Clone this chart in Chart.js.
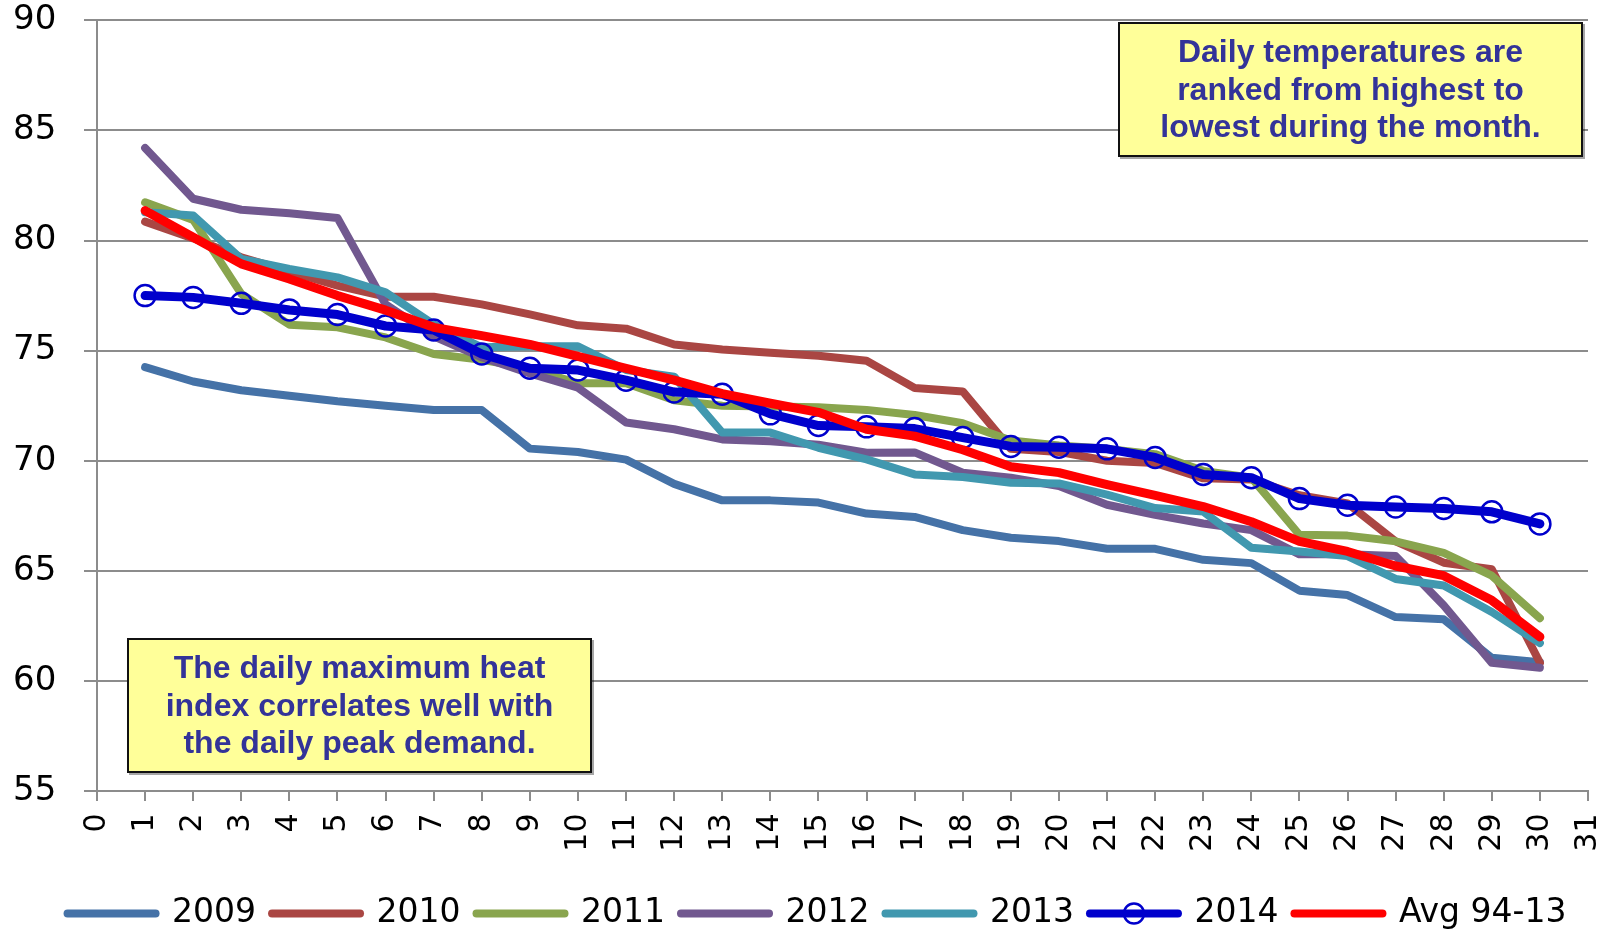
<!DOCTYPE html>
<html>
<head>
<meta charset="utf-8">
<script src="https://cdn.jsdelivr.net/npm/chart.js@4"></script>
<style>
    html, body { margin: 0; padding: 0; background: #fff; overflow: hidden; }
    .wrap { position: relative; width: 1621px; height: 932px; }
    .note {
        position: absolute;
        box-sizing: border-box;
        width: 465px;
        height: 135px;
        background: #FFFF99;
        border: 2px solid #111;
        box-shadow: 2px 2px 0 rgba(0, 0, 0, 0.35);
        display: flex;
        align-items: center;
        justify-content: center;
        text-align: center;
        font: bold 32px 'Liberation Sans', Arial, sans-serif;
        line-height: 37.5px;
        color: #333399;
    }
</style>
</head>
<body>
<div class="wrap">
    <canvas id="myLineChart"></canvas>
    <div class="note" style="left:1118px; top:22px;">Daily temperatures are<br>ranked from highest to<br>lowest during the month.</div>
    <div class="note" style="left:127px; top:638px;">The daily maximum heat<br>index correlates well with<br>the daily peak demand.</div>
</div>
<script>
// ranked day of month (1 = hottest)
const days = [1, 2, 3, 4, 5, 6, 7, 8, 9, 10, 11, 12, 13, 14, 15, 16, 17, 18, 19, 20, 21, 22, 23, 24, 25, 26, 27, 28, 29, 30];

const y2009 = [74.25, 73.6, 73.2, 72.95, 72.7, 72.5, 72.3, 72.3, 70.55, 70.4, 70.05, 68.95, 68.2, 68.2, 68.1, 67.6, 67.45, 66.85, 66.5, 66.35, 66.0, 66.0, 65.5, 65.35, 64.1, 63.9, 62.9, 62.8, 61.05, 60.85];
const y2010 = [80.86, 80.1, 79.24, 78.6, 77.95, 77.45, 77.45, 77.1, 76.65, 76.15, 76.0, 75.28, 75.05, 74.9, 74.77, 74.54, 73.3, 73.15, 70.54, 70.4, 70.0, 69.9, 69.2, 69.15, 68.43, 68.06, 66.34, 65.37, 65.07, 60.83];
const y2011 = [81.74, 80.94, 77.58, 76.18, 76.06, 75.6, 74.85, 74.58, 74.2, 73.52, 73.52, 72.75, 72.5, 72.46, 72.43, 72.31, 72.08, 71.7, 70.92, 70.69, 70.54, 70.3, 69.54, 69.23, 66.64, 66.6, 66.34, 65.82, 64.78, 62.85];
const y2012 = [84.21, 81.9, 81.4, 81.24, 81.03, 77.1, 75.65, 74.7, 73.97, 73.32, 71.74, 71.43, 70.97, 70.89, 70.73, 70.36, 70.38, 69.46, 69.23, 68.85, 68.0, 67.54, 67.15, 66.85, 65.75, 65.75, 65.67, 63.43, 60.82, 60.6];
const y2013 = [81.29, 81.14, 79.17, 78.71, 78.33, 77.65, 76.2, 75.15, 75.2, 75.2, 74.12, 73.82, 71.28, 71.28, 70.59, 70.06, 69.38, 69.26, 69.0, 68.97, 68.46, 67.85, 67.69, 66.05, 65.88, 65.67, 64.63, 64.33, 63.13, 61.72];
const y2014 = [77.5, 77.42, 77.15, 76.85, 76.64, 76.12, 75.94, 74.85, 74.2, 74.12, 73.66, 73.12, 73.02, 72.13, 71.6, 71.54, 71.46, 71.05, 70.65, 70.61, 70.54, 70.15, 69.38, 69.23, 68.28, 67.98, 67.9, 67.83, 67.68, 67.13];
const avg9413 = [81.36, 80.15, 78.94, 78.26, 77.5, 76.84, 76.06, 75.68, 75.28, 74.74, 74.2, 73.66, 73.05, 72.61, 72.2, 71.43, 71.12, 70.5, 69.73, 69.46, 68.92, 68.43, 67.92, 67.23, 66.34, 65.88, 65.22, 64.78, 63.66, 62.0];

const seriesNames = ['2009', '2010', '2011', '2012', '2013', '2014', 'Avg 94-13'];
const seriesData = [y2009, y2010, y2011, y2012, y2013, y2014, avg9413];
const seriesColors = ['#4572A7', '#AA4643', '#89A54E', '#71588F', '#4198AF', '#0000CC', '#FF0000'];

const gridColor = '#8c8c8c';

Chart.defaults.font.family = "'DejaVu Sans', sans-serif";
Chart.defaults.color = '#000';

const datasets = seriesNames.map((name, i) => ({
    label: name,
    data: days.map((d, j) => ({ x: d, y: seriesData[i][j] })),
    borderColor: seriesColors[i],
    backgroundColor: seriesColors[i],
    borderWidth: i >= 5 ? 9 : 8,
    borderCapStyle: 'round',
    borderJoinStyle: 'round',
    tension: 0,
    pointRadius: name === '2014' ? 10.5 : 0,
    pointBorderWidth: 2.5,
    pointBorderColor: seriesColors[i],
    pointBackgroundColor: 'rgba(0,0,0,0)',
    order: seriesNames.length - 1 - i   // later series drawn on top
}));

// circle marker on the 2014 legend swatch
const legendMarker = {
    id: 'legendMarker',
    afterDraw(chart) {
        const lg = chart.legend;
        if (!lg || !lg.legendItems) return;
        const idx = lg.legendItems.findIndex(it => it.text === '2014');
        if (idx < 0) return;
        const box = lg.legendHitBoxes[idx];
        const opts = lg.options.labels;
        const ctx = chart.ctx;
        ctx.save();
        ctx.beginPath();
        ctx.arc(box.left + opts.pointStyleWidth / 2, box.top + opts.font.size / 2, 10, 0, Math.PI * 2);
        ctx.lineWidth = 2.5;
        ctx.strokeStyle = '#0000CC';
        ctx.stroke();
        ctx.restore();
    }
};

const ctxLine = document.getElementById('myLineChart').getContext('2d');
new Chart(ctxLine, {
    type: 'line',
    data: { datasets: datasets },
    plugins: [legendMarker],
    options: {
        maintainAspectRatio: false,
        responsive: true,
        animation: false,
        events: [],
        layout: {
            padding: { top: 0, right: 0, left: 13, bottom: -8 }
        },
        plugins: {
            tooltip: { enabled: false },
            legend: {
                position: 'bottom',
                labels: {
                    usePointStyle: true,
                    pointStyle: 'line',
                    pointStyleWidth: 88,
                    padding: 16,
                    font: { size: 33 },
                    color: '#000',
                    sort: (a, b) => a.datasetIndex - b.datasetIndex,
                    generateLabels: (chart) => {
                        const items = Chart.defaults.plugins.legend.labels.generateLabels(chart);
                        items.forEach(it => {
                            it.lineWidth = 8;
                            it.lineCap = 'round';
                            it.strokeStyle = seriesColors[it.datasetIndex];
                        });
                        return items;
                    }
                }
            }
        },
        scales: {
            x: {
                type: 'linear',
                min: 0,
                max: 31,
                afterFit: (scale) => { scale.height = 90; },
                grid: {
                    drawOnChartArea: false,
                    color: gridColor,
                    lineWidth: 2,
                    tickLength: 10
                },
                border: { color: gridColor, width: 2 },
                ticks: {
                    stepSize: 1,
                    autoSkip: false,
                    minRotation: 90,
                    maxRotation: 90,
                    padding: 3,
                    // trailing space keeps the rotated digits clear of the tick marks
                    callback: (v) => v + ' ',
                    font: { size: 30, lineHeight: 1 },
                    color: '#000'
                }
            },
            y: {
                min: 55,
                max: 90,
                afterFit: (scale) => { scale.width = 84; },
                grid: {
                    color: gridColor,
                    lineWidth: 2,
                    tickLength: 13
                },
                border: { color: gridColor, width: 2 },
                ticks: {
                    stepSize: 5,
                    padding: 0,
                    crossAlign: 'far',
                    font: { size: 34 },
                    color: '#000'
                }
            }
        }
    }
});
</script>
</body>
</html>
